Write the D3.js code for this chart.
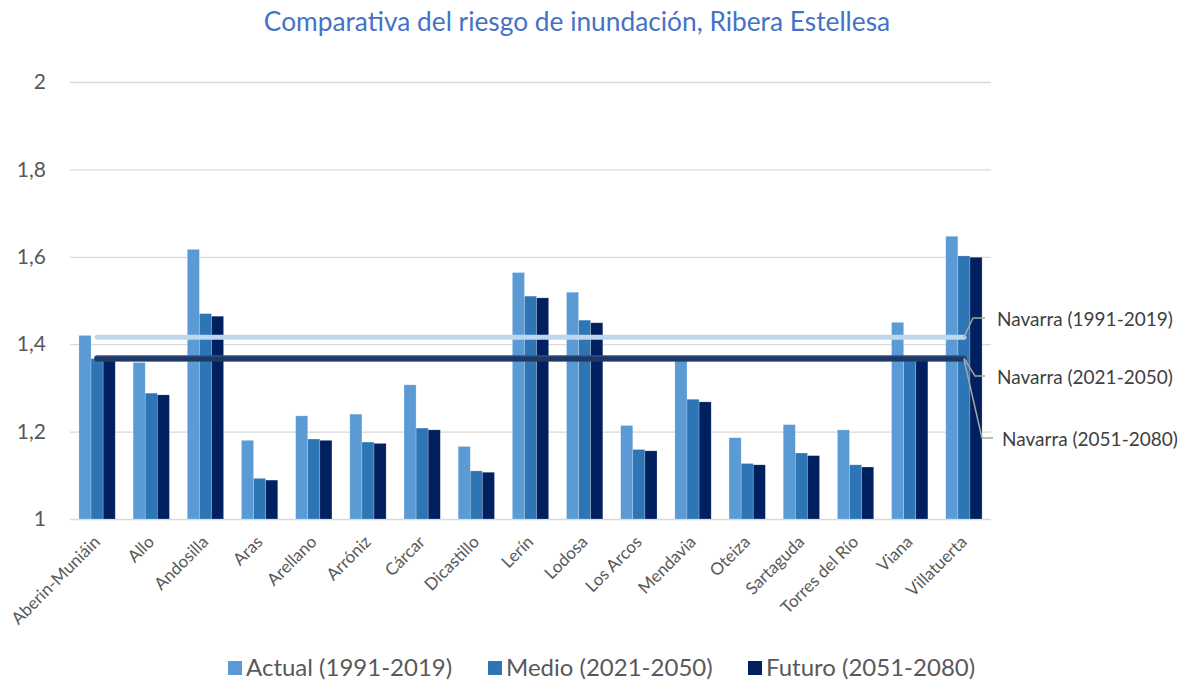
<!DOCTYPE html>
<html>
<head>
<meta charset="utf-8">
<script src="https://cdnjs.cloudflare.com/ajax/libs/d3/7.8.5/d3.min.js"></script>
<style>
  body { margin: 0; background: #fff; }
  text { font-family: Lato, "Liberation Sans", sans-serif; }
</style>
</head>
<body>
<svg id="chart" width="1187" height="684"></svg>
<script>
// data
var municipios = ["Aberin-Muniáin", "Allo", "Andosilla", "Aras", "Arellano", "Arróniz", "Cárcar",
  "Dicastillo", "Lerín", "Lodosa", "Los Arcos", "Mendavia", "Oteiza", "Sartaguda",
  "Torres del Río", "Viana", "Villatuerta"];
var actual = [1.420, 1.358, 1.617, 1.180, 1.236, 1.240, 1.307, 1.166, 1.564, 1.519, 1.214, 1.368, 1.186, 1.216, 1.204, 1.450, 1.647];
var medio  = [1.367, 1.288, 1.470, 1.093, 1.183, 1.176, 1.208, 1.110, 1.510, 1.455, 1.159, 1.274, 1.127, 1.151, 1.124, 1.368, 1.602];
var futuro = [1.362, 1.284, 1.464, 1.089, 1.180, 1.173, 1.204, 1.107, 1.506, 1.449, 1.156, 1.268, 1.124, 1.145, 1.119, 1.365, 1.599];
var seriesNames = ["Actual (1991-2019)", "Medio (2021-2050)", "Futuro (2051-2080)"];
var navarraNames = ["Navarra (1991-2019)", "Navarra (2021-2050)", "Navarra (2051-2080)"];
var navarra = [1.416, 1.368, 1.366];
var yTicks = [1, 1.2, 1.4, 1.6, 1.8, 2];

var colors = ["#5b9bd5", "#2e75b6", "#002060"];
var lineColors = ["#bdd7ee", "#2f5597", "#1f3864"];
var lineWidths = [5, 6, 5];

var svg = d3.select("#chart");
var plotL = 70, plotR = 991, plotT = 82, plotB = 519;

var x = d3.scaleBand().domain(municipios).range([plotL, plotR]).paddingInner(0.33).paddingOuter(0.165);
var x1 = d3.scaleBand().domain([0, 1, 2]).range([0, x.bandwidth()]);
var y = d3.scaleLinear().domain([1, 2]).range([plotB, plotT]);

// title
svg.append("text")
  .attr("x", 577).attr("y", 31)
  .attr("text-anchor", "middle")
  .attr("fill", "#4472c4")
  .style("font-size", "26.3px")
  .text("Comparativa del riesgo de inundación, Ribera Estellesa");

// grid + y axis
var yAxis = d3.axisLeft(y).tickValues(yTicks).tickSize(-(plotR - plotL))
  .tickFormat(function(d){ return d3.format(".1~f")(d).replace(".", ","); });
var gy = svg.append("g").attr("transform", "translate(" + plotL + ",0)").call(yAxis);
gy.select(".domain").remove();
gy.selectAll(".tick line").attr("stroke", "#d9d9d9").attr("stroke-width", 1.3);
gy.selectAll(".tick text").attr("x", -24).attr("fill", "#595959").style("font-size", "21px");

// bars
var allSeries = [actual, medio, futuro];
var groups = svg.append("g").selectAll("g")
  .data(municipios)
  .enter().append("g")
  .attr("transform", function(d){ return "translate(" + x(d) + ",0)"; });

groups.selectAll("rect")
  .data(function(d, i){ return allSeries.map(function(s, k){ return {k: k, v: s[i]}; }); })
  .enter().append("rect")
  .attr("x", function(d){ return x1(d.k); })
  .attr("width", x1.bandwidth())
  .attr("y", function(d){ return y(d.v); })
  .attr("height", function(d){ return y(1) - y(d.v); })
  .attr("fill", function(d){ return colors[d.k]; })
  .attr("stroke", "rgba(255,255,255,0.35)")
  .attr("stroke-width", 0.6);

// Navarra reference lines (future drawn over medium, as in the original)
var x0 = x(municipios[0]) + x.bandwidth() / 2;
var xN = x(municipios[municipios.length - 1]) + x.bandwidth() / 2;
var line = d3.line();
[0, 1, 2].forEach(function(k){
  svg.append("path")
    .attr("d", line([[x0, y(navarra[k])], [xN, y(navarra[k])]]))
    .attr("stroke", lineColors[k])
    .attr("stroke-width", lineWidths[k])
    .attr("stroke-linecap", "round")
    .attr("fill", "none");
});

// labels with leader lines
var labelPos = [[997, 319, 973, 985], [997, 377, 975, 985], [1002, 439, 982, 993]];
navarraNames.forEach(function(name, k){
  var p = labelPos[k];
  svg.append("path")
    .attr("d", line([[xN, y(navarra[k])], [p[2], p[1] - 1], [p[3], p[1] - 1]]))
    .attr("stroke", "#a6a6a6").attr("stroke-width", 1.5).attr("fill", "none");
  svg.append("text")
    .attr("x", p[0]).attr("y", p[1]).attr("dy", "0.35em")
    .attr("fill", "#404040")
    .style("font-size", "19px")
    .text(name);
});

// x labels
svg.append("g").selectAll("text")
  .data(municipios)
  .enter().append("text")
  .attr("transform", function(d){
    return "translate(" + (x(d) + x.bandwidth() / 2 + 4) + "," + 543 + ") rotate(-45)";
  })
  .attr("text-anchor", "end")
  .attr("fill", "#595959")
  .style("font-size", "17px")
  .text(function(d){ return d; });

// legend
var legendX = [228, 488, 748];
var lg = svg.append("g").selectAll("g")
  .data(seriesNames)
  .enter().append("g")
  .attr("transform", function(d, i){ return "translate(" + legendX[i] + ",661)"; });
lg.append("rect").attr("width", 14).attr("height", 14)
  .attr("fill", function(d, i){ return colors[i]; });
lg.append("text").attr("x", 18).attr("y", 7).attr("dy", "0.35em")
  .attr("fill", "#595959")
  .style("font-size", "24px")
  .text(function(d){ return d; });
</script>
</body>
</html>
